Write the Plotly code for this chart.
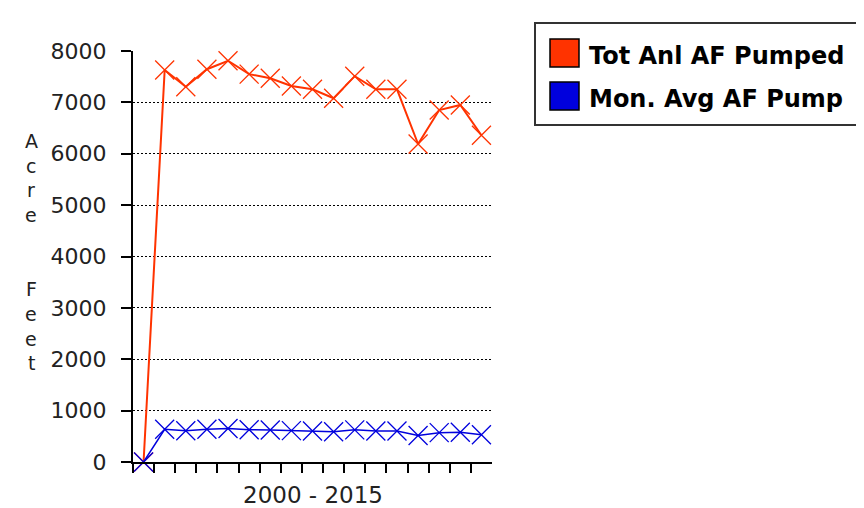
import plotly.graph_objects as go

# ---- data ----
categories = list(range(17))  # 17 yearly slots, axis labelled "2000 - 2015"
tot_anl_af_pumped = [0, 7630, 7305, 7645, 7810, 7550, 7470, 7320, 7255, 7080,
                     7510, 7255, 7255, 6190, 6850, 6950, 6360]
mon_avg_af_pump = [0, 636, 608, 637, 651, 629, 622, 610, 605, 590,
                   626, 605, 605, 516, 571, 579, 530]
y_ticks = [0, 1000, 2000, 3000, 4000, 5000, 6000, 7000, 8000]
series_names = ["Tot Anl AF Pumped", "Mon. Avg AF Pump"]
x_title = "2000 - 2015"
y_title_letters = ["A", "c", "r", "e", "", "", "F", "e", "e", "t"]

RED = "#FF3300"
BLUE = "#0000DD"

OFF = 8  # page body margin
W, H = 864 - OFF, 508 - OFF
# plot area in page pixels
L, R, T, B = 133, 492, 51, 462


def px2x(px):
    return (px - L) / (R - L)


def px2y(py):
    return (B - py) / (B - T)


fig = go.Figure()
fig.add_trace(go.Scatter(
    x=categories, y=tot_anl_af_pumped, mode="lines+markers", name=series_names[0],
    line=dict(color=RED, width=2),
    marker=dict(symbol="x-thin", size=19, line=dict(color=RED, width=1.3)),
    cliponaxis=False, showlegend=False))
fig.add_trace(go.Scatter(
    x=categories, y=mon_avg_af_pump, mode="lines+markers", name=series_names[1],
    line=dict(color=BLUE, width=1.5),
    marker=dict(symbol="x-thin", size=19, line=dict(color=BLUE, width=1.3)),
    cliponaxis=False, showlegend=False))

n = len(categories)
fig.update_xaxes(
    range=[-0.5, n - 0.5], showgrid=False, zeroline=False,
    showline=True, linecolor="black", linewidth=2,
    tickmode="array", tickvals=[i - 0.5 for i in range(n)],
    ticks="outside", ticklen=9, tickwidth=2, tickcolor="black",
    showticklabels=False)
fig.update_yaxes(
    range=[0, 8000], tickvals=y_ticks, showgrid=True, gridcolor="black",
    griddash="2px,2px", gridwidth=1.2, zeroline=False,
    showline=True, linecolor="black", linewidth=2,
    ticks="outside", ticklen=10, tickwidth=2, tickcolor="black",
    ticklabelstandoff=10,
    tickfont=dict(family="DejaVu Sans", size=22, color="#222"))

annotations = [
    dict(text=x_title, x=0.5, y=px2y(495), xref="paper", yref="paper",
         showarrow=False, xanchor="center", yanchor="middle",
         font=dict(family="DejaVu Sans", size=23, color="#222")),
]
# stacked vertical y-axis title
y0 = 141
for i, ch in enumerate(y_title_letters):
    if ch:
        annotations.append(dict(
            text=ch, x=px2x(31), y=px2y(y0 + i * 24.7), xref="paper", yref="paper",
            showarrow=False, xanchor="center", yanchor="middle",
            font=dict(family="DejaVu Sans", size=19, color="#222")))

# custom legend
shapes = [
    dict(type="rect", xref="paper", yref="paper",
         x0=px2x(535), x1=px2x(862), y0=px2y(23), y1=px2y(125),
         line=dict(color="#333", width=2), fillcolor="white", layer="below"),
]
leg_colors = [RED, BLUE]
leg_y = [53, 96]
for name, col, cy in zip(series_names, leg_colors, leg_y):
    shapes.append(dict(type="rect", xref="paper", yref="paper",
                       x0=px2x(550), x1=px2x(579), y0=px2y(cy - 14), y1=px2y(cy + 14),
                       line=dict(color="black", width=1.5), fillcolor=col))
    annotations.append(dict(text=name, x=px2x(587), y=px2y(cy + 3), xref="paper",
                            yref="paper", showarrow=False, xanchor="left",
                            yanchor="middle",
                            font=dict(family="DejaVu Sans", size=24, color="black",
                                      weight="bold")))

fig.update_layout(
    width=W, height=H,
    margin=dict(l=L - OFF, r=(W + OFF) - R, t=T - OFF, b=(H + OFF) - B,
                autoexpand=False),
    paper_bgcolor="white", plot_bgcolor="white",
    annotations=annotations, shapes=shapes, showlegend=False)

fig.write_html("out.html")
